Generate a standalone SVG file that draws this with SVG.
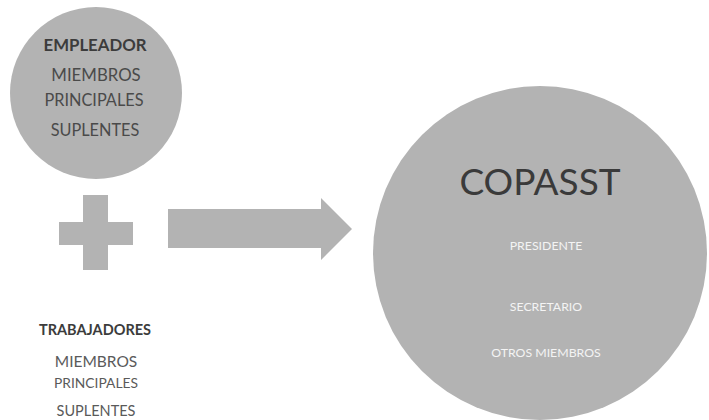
<svg xmlns="http://www.w3.org/2000/svg" width="709" height="420" viewBox="0 0 709 420">
<style>
.shape{fill:#b3b3b3}
.t{font-family:Lato,"Open Sans","Liberation Sans",sans-serif;text-anchor:middle}
.dark{fill:#4a4a4a}
.bold{font-weight:bold;fill:#3c3c3c}
.light{fill:#f4f4f4;font-size:12.3px}
.low{fill:#5a5a5a;font-size:14.5px}
</style>
<rect width="709" height="420" fill="#ffffff"/>
<g id="empleador">
<circle class="shape" cx="96" cy="93" r="86"/>
<text class="t bold" x="95" y="51" font-size="16.8">EMPLEADOR</text>
<text class="t dark" x="96" y="81" font-size="16.8">MIEMBROS</text>
<text class="t dark" x="94" y="106" font-size="16.3">PRINCIPALES</text>
<text class="t dark" x="95" y="136" font-size="16.3">SUPLENTES</text>
</g>
<g id="plus">
<path class="shape" d="M83,195 H108 V222 H133 V245 H108 V270 H83 V245 H59 V222 H83 Z"/>
</g>
<g id="connectors">
<path class="shape" d="M168,209 H321 V198 L352,229 L321,260 V248 H168 Z"/>
</g>
<g id="copasst">
<circle class="shape" cx="540" cy="253" r="167"/>
<text class="t" x="540" y="195" font-size="37" fill="#3a3a3a">COPASST</text>
<text class="t light" x="546" y="250">PRESIDENTE</text>
<text class="t light" x="546" y="311">SECRETARIO</text>
<text class="t light" x="546" y="357">OTROS MIEMBROS</text>
</g>
<g id="trabajadores">
<text class="t bold" x="95" y="335" font-size="14.5">TRABAJADORES</text>
<text class="t low" x="96" y="367" font-size="15.5" style="font-size:15.5px">MIEMBROS</text>
<text class="t low" x="96" y="388" style="font-size:13.8px">PRINCIPALES</text>
<text class="t low" x="96" y="416">SUPLENTES</text>
</g>
</svg>
